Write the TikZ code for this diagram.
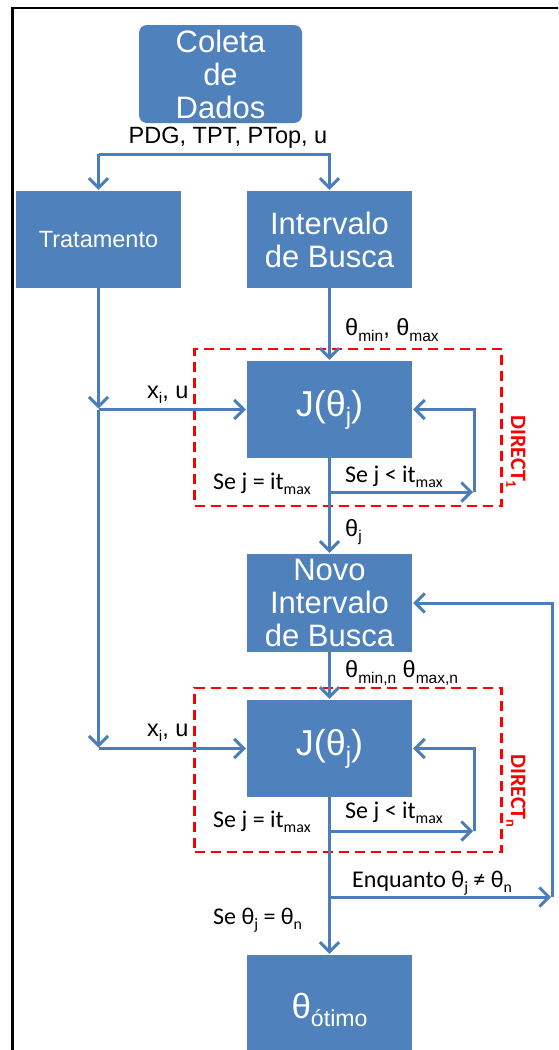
\documentclass[tikz,border=0pt]{standalone}
\usepackage{fontspec}
\setmainfont{Liberation Sans}
\newfontfamily\calib{Carlito}
\usetikzlibrary{arrows.meta}
\definecolor{boxblue}{HTML}{4F81BD}
\definecolor{lineblue}{HTML}{4A7EBB}
\definecolor{dashred}{HTML}{FF0000}
% lowered, reduced text used for indices
\newcommand{\sbs}[1]{\raisebox{-0.22em}{\scalebox{0.66}{#1}}}

\begin{document}
\begin{tikzpicture}[x=1pt,y=-1pt,
  box/.style={fill=boxblue, text=white, align=center, minimum width=165pt,
    minimum height=97pt, inner sep=0pt},
  bigtxt/.style={font=\fontsize{31}{33}\selectfont},
  arr/.style={draw=lineblue, line width=3pt, shorten >=1pt,
    -{Straight Barb[length=9.5pt,width=19pt]}},
  lbl/.style={font=\fontsize{23.5}{26}\selectfont, inner sep=0pt, anchor=west},
  clbl/.style={font=\calib\fontsize{24}{26}\selectfont, inner sep=0pt, anchor=west},
  dbox/.style={draw=dashred, line width=2.3pt, dash pattern=on 10pt off 6pt,
    inner sep=0pt},
  dirlbl/.style={text=dashred, rotate=-90, inner sep=0pt,
    font=\calib\bfseries\fontsize{22}{24}\selectfont},
]
\useasboundingbox (0,0) rectangle (558,1050);
\clip (0,0) rectangle (558,1050);

% outer frame
\draw[line width=2.5pt] (565,8) -- (12.5,8) -- (12.5,1065);

% process boxes
\node[box, rounded corners=8pt, minimum width=163pt, minimum height=98pt, bigtxt]
  (coleta) at (220.5,74) {Coleta\\de\\Dados};
\node[box, font=\fontsize{23.5}{26}\selectfont] (trat) at (98.5,239.5) {Tratamento};
\node[box, bigtxt] (interv) at (329.5,239.5) {Intervalo\\de Busca};
\node[box, font=\fontsize{36}{38}\selectfont] (j1) at (329.5,409.5) {J(θ\sbs{j})};
\node[box, bigtxt, minimum height=98pt] (novo) at (329.5,603) {Novo\\Intervalo\\de Busca};
\node[box, font=\fontsize{36}{38}\selectfont] (j2) at (329.5,748.5) {J(θ\sbs{j})};
\node[box, minimum height=110pt, font=\fontsize{35}{38}\selectfont] (otimo)
  at (329.5,1010) {θ\sbs{ótimo}};

% DIRECT regions
\node[dbox, minimum width=307pt, minimum height=157pt] (dir1) at (348,427.5) {};
\node[dbox, minimum width=307pt, minimum height=164pt] (dirn) at (348,770) {};
\node[dirlbl] (dl1) at (516,452) {DIRECT\sbs{1}};
\node[dirlbl] (dln) at (516,791) {DIRECT\sbs{n}};

% junction points
\coordinate (sp) at (98.5,154);
\coordinate (a1) at (98.5,409.5);
\coordinate (a2) at (98.5,748.5);
\coordinate (l1) at (329.5,492);
\coordinate (r1) at (474,492);
\coordinate (l2) at (329.5,831);
\coordinate (r2) at (474,831);
\coordinate (e1) at (329.5,897);
\coordinate (e2) at (552,897);

% connectors
\draw[arr] (sp) -- (trat);
\draw[arr] (sp) -| (interv);
\draw[arr] (interv) -- (j1);
\draw[arr] (trat) -- (a1);
\draw[arr] (a1) -- (j1);
\draw[arr] (a1) -- (a2);
\draw[arr] (a2) -- (j2);
\draw[arr] (j1) -- (novo);
\draw[arr] (l1) -- (r1);
\draw[arr] (r1) |- (j1);
\draw[arr] (novo) -- (j2);
\draw[arr] (l2) -- (r2);
\draw[arr] (r2) |- (j2);
\draw[arr] (j2) -- (otimo);
\draw[arr] (e1) -- (e2);
\draw[arr] (e2) |- (novo);

% labels
\node[lbl, anchor=center] (pdg) at (228,138) {PDG, TPT, PTop, u};
\node[lbl] (th1) at (345,330) {θ\sbs{min}, θ\sbs{max}};
\node[lbl] (xi1) at (147,395) {x\sbs{i}, u};
\node[clbl] (sej1) at (213,484) {Se j = it\sbs{max}};
\node[clbl] (sel1) at (345,477) {Se j < it\sbs{max}};
\node[lbl] (thj) at (345,532) {θ\sbs{j}};
\node[lbl] (thn) at (345,673) {θ\sbs{min,n} θ\sbs{max,n}};
\node[lbl] (xi2) at (147,733) {x\sbs{i}, u};
\node[clbl] (sej2) at (213,822) {Se j = it\sbs{max}};
\node[clbl] (sel2) at (345,813) {Se j < it\sbs{max}};
\node[clbl] (enq) at (352,883) {Enquanto θ\sbs{j} ≠ θ\sbs{n}};
\node[clbl] (seth) at (213,920) {Se θ\sbs{j} = θ\sbs{n}};
\end{tikzpicture}
\end{document}
